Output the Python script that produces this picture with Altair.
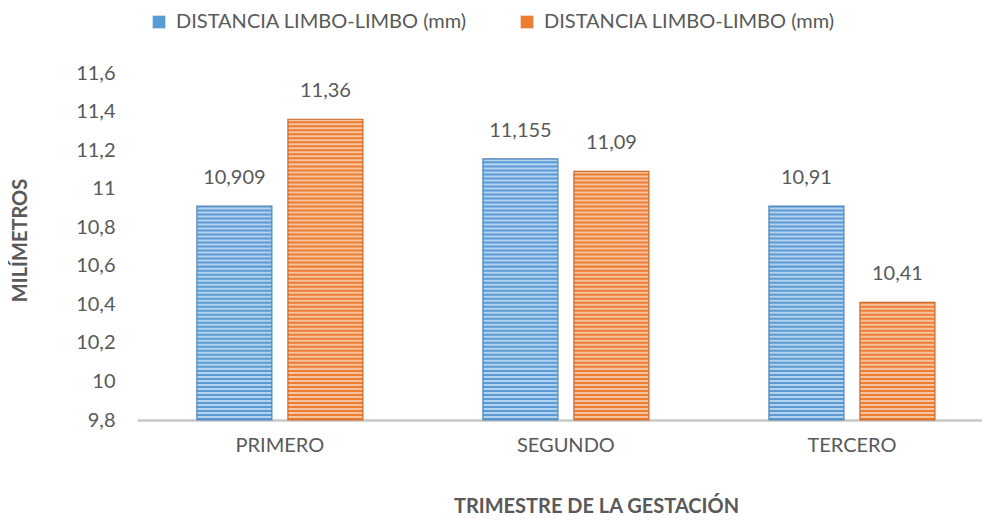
import altair as alt
import pandas as pd

categories = ["PRIMERO", "SEGUNDO", "TERCERO"]
series_names = ["DISTANCIA LIMBO-LIMBO (mm)", "DISTANCIA LIMBO-LIMBO (mm) "]
values_a = [10.909, 11.155, 10.91]
values_b = [11.36, 11.09, 10.41]
y_ticks = [9.8, 10.0, 10.2, 10.4, 10.6, 10.8, 11.0, 11.2, 11.4, 11.6]
y_min = 9.8
y_max = 11.6

rows = []
for c, va, vb in zip(categories, values_a, values_b):
    rows.append({"cat": c, "series": series_names[0], "value": va})
    rows.append({"cat": c, "series": series_names[1], "value": vb})
df = pd.DataFrame(rows)

FONT = "Lato"
TXT = "#595959"
base_colors = ["#5B9BD5", "#ED7D31"]
edge_colors = ["#4F86B9", "#C96A2A"]

x_enc = alt.X(
    "cat:N",
    sort=categories,
    scale=alt.Scale(paddingInner=0.4196, paddingOuter=0.187, align=0.56),
    axis=alt.Axis(
        title="TRIMESTRE DE LA GESTACIÓN",
        titleFont=FONT, titleFontSize=20, titleFontWeight="bold", titleColor=TXT,
        titleX=459, titleY=86, titleBaseline="middle", titleAlign="center",
        labelFont=FONT, labelFontSize=20, labelColor=TXT, labelAngle=0,
        labelPadding=15, ticks=False,
        domainColor="#C8C8C8", domainWidth=2.5,
    ),
)
xo_enc = alt.XOffset("series:N", sort=series_names,
                     scale=alt.Scale(paddingInner=0.176, paddingOuter=0))
y_scale = alt.Scale(domain=[y_min, y_max], zero=False, nice=False)
y_axis = alt.Axis(
    title="MILÍMETROS",
    titleFont=FONT, titleFontSize=20, titleFontWeight="bold", titleColor=TXT,
    titleAngle=-90, titleX=-117, titleY=167, titleBaseline="middle", titleAlign="center",
    values=y_ticks, labelOverlap=False,
    labelExpr="replace(format(datum.value, '.1~f'), '.', ',')",
    labelFont=FONT, labelFontSize=20, labelColor=TXT,
    labelPadding=22, ticks=False, domain=False, grid=False,
)

base = alt.Chart(df).encode(x=x_enc, xOffset=xo_enc)

bars = base.mark_bar().encode(
    y=alt.Y("value:Q", scale=y_scale, axis=y_axis),
    y2=alt.datum(y_min),
    color=alt.Color(
        "series:N",
        sort=series_names,
        scale=alt.Scale(domain=series_names, range=base_colors),
        legend=alt.Legend(
            title=None, orient="none", legendX=12, legendY=-61,
            direction="horizontal", symbolType="square", symbolSize=160,
            symbolStrokeWidth=0, labelFont=FONT, labelFontSize=20,
            labelColor=TXT, labelOffset=7, columnPadding=50,
            labelLimit=400, padding=0,
        ),
    ),
)

stripes = base.transform_calculate(
    s="sequence(9.8 + 0.0104, datum.value - 0.006, 0.0208)"
).transform_flatten(["s"]).transform_calculate(
    s2="datum.s + 0.0104"
).mark_bar(color="white", opacity=0.55).encode(
    y=alt.Y("s:Q", scale=y_scale, axis=y_axis),
    y2="s2:Q",
)

outline = base.mark_bar(fillOpacity=0, strokeWidth=1.2).encode(
    y=alt.Y("value:Q", scale=y_scale, axis=y_axis),
    y2=alt.datum(y_min),
    stroke=alt.Stroke("series:N", sort=series_names,
                      scale=alt.Scale(domain=series_names, range=edge_colors),
                      legend=None),
)

labels = base.transform_calculate(
    lbl="replace(toString(datum.value), '.', ',')"
).mark_text(font=FONT, fontSize=20, color=TXT, baseline="alphabetic", dy=-22).encode(
    y=alt.Y("value:Q", scale=y_scale, axis=y_axis),
    text="lbl:N",
)

chart = alt.layer(bars, stripes, outline, labels).properties(
    width=845,
    height=347,
    autosize=alt.AutoSizeParams(type="none"),
    padding={"left": 129, "top": 65, "right": 0, "bottom": 98},
).configure_view(stroke=None).resolve_scale(color="independent", stroke="independent")

chart.save("out.html", embed_options={"renderer": "svg", "actions": False})
